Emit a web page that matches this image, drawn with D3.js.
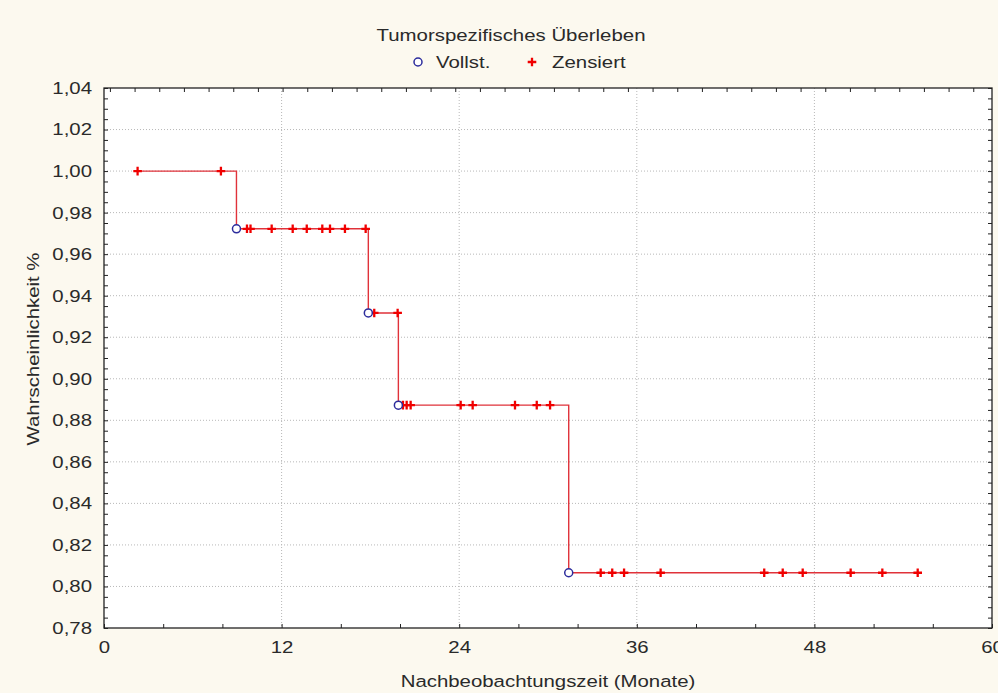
<!DOCTYPE html>
<html><head><meta charset="utf-8">
<script src="https://cdn.jsdelivr.net/npm/d3@7"></script>
<style>
html,body{margin:0;padding:0;background:#FCF9EF;}
svg{display:block;}
text{font-family:"Liberation Sans",Arial,sans-serif;fill:#2a2a2a;}
</style>
</head><body>
<svg id="c" width="998" height="693"></svg>
<script>
// ---------- data ----------
const chartTitle = "Tumorspezifisches Überleben";
const xTitle = "Nachbeobachtungszeit (Monate)";
const yTitle = "Wahrscheinlichkeit %";
const legendLabels = ["Vollst.", "Zensiert"];
const xTickLabels = [0, 12, 24, 36, 48, 60];
const yTickLabels = [0.78, 0.80, 0.82, 0.84, 0.86, 0.88, 0.90, 0.92, 0.94, 0.96, 0.98, 1.00, 1.02, 1.04];
// complete (event) observations: time in months, survival after the drop
const eventTimes = [8.95, 17.86, 19.89, 31.4];
const eventSurv  = [0.9722, 0.9317, 0.8873, 0.8066];
// censored observations
const censTimes = [2.27, 7.9,
  9.66, 9.9, 11.33, 12.75, 13.7, 14.75, 15.27, 16.28, 17.68,
  18.26, 19.84,
  20.2, 20.45, 20.72, 24.1, 24.91, 27.77, 29.24, 30.14,
  33.56, 34.34, 35.14, 37.61, 44.61, 45.86, 47.21, 50.45, 52.59, 54.98];
const censSurv = [1.0, 1.0,
  0.9722, 0.9722, 0.9722, 0.9722, 0.9722, 0.9722, 0.9722, 0.9722, 0.9722,
  0.9317, 0.9317,
  0.8873, 0.8873, 0.8873, 0.8873, 0.8873, 0.8873, 0.8873, 0.8873,
  0.8066, 0.8066, 0.8066, 0.8066, 0.8066, 0.8066, 0.8066, 0.8066, 0.8066, 0.8066];

// ---------- setup ----------
const SX = 1.2; // horizontal stretch of text
const FS = 17;
const svg = d3.select("#c");
const L = 104, R = 992, T = 88, B = 628;
const x = d3.scaleLinear().domain([0, 60]).range([L, R]);
const y = d3.scaleLinear().domain([0.78, 1.04]).range([B, T]);
const loc = d3.formatLocale({decimal: ",", thousands: ".", grouping: [3], currency: ["", "€"]});
const fmt2 = loc.format(".2f");

function stretchedText(g, tx, ty, str, anchor, rot) {
  const t = g.append("g").attr("transform", `translate(${tx},${ty})` + (rot ? ` rotate(${rot})` : "") + ` scale(${SX},1)`);
  return t.append("text").attr("text-anchor", anchor || "middle").style("font-size", FS + "px").text(str);
}

// plot background
svg.append("rect").attr("x", L).attr("y", T).attr("width", R - L).attr("height", B - T).attr("fill", "#ffffff");

// grid
const grid = svg.append("g");
grid.selectAll("line.h").data(yTickLabels.filter(v => v > 0.781 && v < 1.039)).join("line")
  .attr("x1", L).attr("x2", R).attr("y1", d => y(d)).attr("y2", d => y(d))
  .attr("stroke", "#b8b8b8").attr("stroke-width", 1).attr("stroke-dasharray", "1,2");
grid.selectAll("line.v").data(xTickLabels.filter(v => v > 0 && v < 60)).join("line")
  .attr("y1", T).attr("y2", B).attr("x1", d => x(d)).attr("x2", d => x(d))
  .attr("stroke", "#b8b8b8").attr("stroke-width", 1).attr("stroke-dasharray", "1,2");

// minor ticks (inward)
const yMinor = d3.range(0, 53).map(i => 0.78 + i * 0.005);
const xMinor = d3.range(0, 16).map(i => i * 4);
const topMinor = d3.range(0, 36).map(i => 0.4 + i * 60 / 36);
function styleAxis(g) { g.select(".domain").remove(); g.selectAll("line").attr("stroke", "#222").attr("stroke-width", 1); g.selectAll("text").remove(); }
svg.append("g").attr("transform", `translate(${L},0)`).call(d3.axisLeft(y).tickValues(yMinor).tickSize(-4)).call(styleAxis);
svg.append("g").attr("transform", `translate(${R},0)`).call(d3.axisRight(y).tickValues(yMinor).tickSize(-4)).call(styleAxis);
svg.append("g").attr("transform", `translate(0,${B})`).call(d3.axisBottom(x).tickValues(xMinor).tickSize(-4)).call(styleAxis);
svg.append("g").attr("transform", `translate(0,${T})`).call(d3.axisTop(x).tickValues(topMinor).tickSize(-4)).call(styleAxis);

// tick labels via axes
const yAx = svg.append("g").attr("transform", `translate(${L},0)`)
  .call(d3.axisLeft(y).tickValues(yTickLabels).tickFormat(fmt2).tickSize(0).tickPadding(12));
yAx.select(".domain").remove();
yAx.selectAll("text").style("font-size", FS + "px").attr("fill", "#2a2a2a")
  .attr("x", -12 / SX).attr("transform", `scale(${SX},1)`).attr("font-family", '"Liberation Sans",Arial,sans-serif');
const xAx = svg.append("g").attr("transform", `translate(0,${B})`)
  .call(d3.axisBottom(x).tickValues(xTickLabels).tickFormat(d3.format("d")).tickSize(0).tickPadding(13));
xAx.select(".domain").remove();
xAx.selectAll("text").style("font-size", FS + "px").attr("fill", "#2a2a2a")
  .attr("transform", `scale(${SX},1)`).attr("font-family", '"Liberation Sans",Arial,sans-serif');

// frame
svg.append("rect").attr("x", L).attr("y", T).attr("width", R - L).attr("height", B - T)
  .attr("fill", "none").attr("stroke", "#222").attr("stroke-width", 1.3);

// survival step line
const obs = eventTimes.map((t, i) => ({t, s: eventSurv[i]}))
  .concat(censTimes.map((t, i) => ({t, s: censSurv[i]})))
  .sort((a, b) => a.t - b.t);
const line = d3.line().x(d => x(d.t)).y(d => y(d.s)).curve(d3.curveStepAfter);
svg.append("path").datum(obs).attr("d", line).attr("fill", "none").attr("stroke", "#e0323a").attr("stroke-width", 1.4);

// markers
const PS = 4.3;
function plus(g, cx, cy) {
  g.append("path").attr("d", `M${cx - PS},${cy}H${cx + PS}M${cx},${cy - PS}V${cy + PS}`)
    .attr("stroke", "#f00000").attr("stroke-width", 2.3).attr("fill", "none");
}
const mk = svg.append("g");
censTimes.forEach((t, i) => plus(mk, x(t), y(censSurv[i])));
svg.append("g").selectAll("circle").data(eventTimes).join("circle")
  .attr("cx", d => x(d)).attr("cy", (d, i) => y(eventSurv[i])).attr("r", 4)
  .attr("fill", "#fff").attr("stroke", "#2c2c9c").attr("stroke-width", 1.5);

// titles
stretchedText(svg, 511, 41, chartTitle, "middle");
stretchedText(svg, 548, 687, xTitle, "middle");
stretchedText(svg, 39, 349, yTitle, "middle", -90);

// legend
svg.append("circle").attr("cx", 418).attr("cy", 62).attr("r", 4).attr("fill", "#fff")
  .attr("stroke", "#2c2c9c").attr("stroke-width", 1.5);
stretchedText(svg, 436, 68, legendLabels[0], "start");
plus(svg, 532, 62);
stretchedText(svg, 552, 68, legendLabels[1], "start");
</script>
</body></html>
